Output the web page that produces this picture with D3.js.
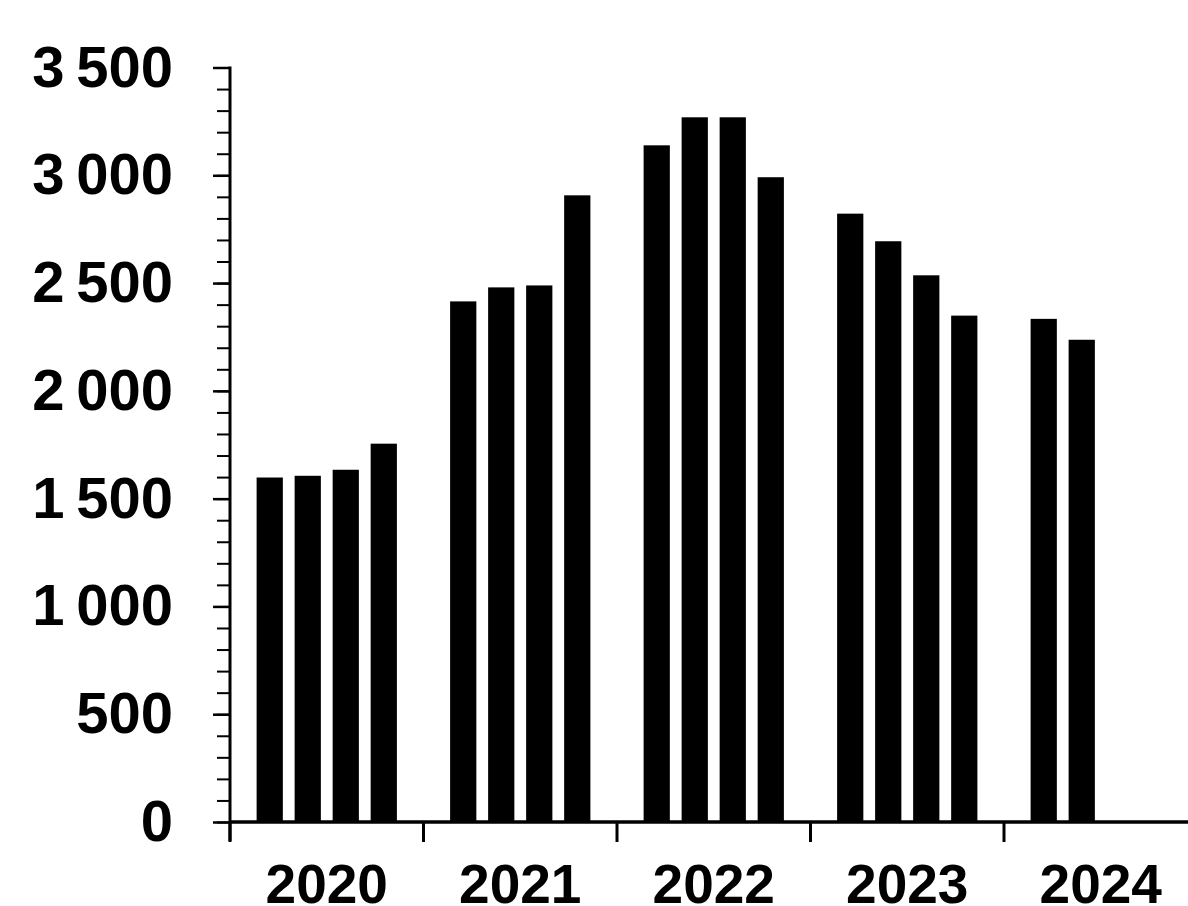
<!DOCTYPE html>
<html>
<head>
<meta charset="utf-8">
<script src="https://cdn.jsdelivr.net/npm/d3@7"></script>
<style>
  html, body { margin: 0; padding: 0; background: #fff; }
  svg { display: block; }
  text { font-family: "Century Gothic", "URW Gothic", "Liberation Sans", Arial, sans-serif; font-weight: bold; fill: #000; }
</style>
</head>
<body>
<svg id="chart" width="1188" height="906"></svg>
<script>
// ---- data ----
const years = ["2020", "2021", "2022", "2023", "2024"];
const quarters = ["Q1", "Q2", "Q3", "Q4"];
const values2020 = [1598, 1606, 1634, 1755];
const values2021 = [2415, 2480, 2489, 2907];
const values2022 = [3139, 3269, 3269, 2991];
const values2023 = [2822, 2694, 2536, 2349];
const values2024 = [2334, 2237];
const yTicks = [0, 500, 1000, 1500, 2000, 2500, 3000, 3500];
const yMinorStep = 100;

const seriesByYear = [values2020, values2021, values2022, values2023, values2024];
const rows = [];
years.forEach((y, i) => seriesByYear[i].forEach((v, j) => rows.push({ year: y, q: quarters[j], value: v })));

// ---- layout ----
const svg = d3.select("#chart");
const x0Left = 230, x0Right = 1197.5;
const yTop = 67.5, yBottom = 822;
const fontSize = 58;
const xFontSize = 55;

const x0 = d3.scaleBand().domain(years).range([x0Left, x0Right]).padding(0);
const x1 = d3.scaleBand().domain(quarters).range([0, x0.bandwidth()]).paddingInner(0.31).paddingOuter(0.7);
const y = d3.scaleLinear().domain([0, 3500]).range([yBottom, yTop]);

const loc = d3.formatLocale({ decimal: ",", thousands: "\u2009", grouping: [3], currency: ["", ""] });
const fmt = loc.format(",d");

svg.append("rect").attr("width", 1188).attr("height", 906).attr("fill", "#fff");

// bars
svg.append("g").selectAll("rect").data(rows).join("rect")
  .attr("x", d => x0(d.year) + x1(d.q))
  .attr("width", x1.bandwidth())
  .attr("y", d => y(d.value))
  .attr("height", d => y(0) - y(d.value))
  .attr("fill", "#000");

// y axis minor ticks
const minorTicks = d3.range(0, 3500 + 1, yMinorStep);
const yMinor = svg.append("g").attr("transform", `translate(${x0Left},0)`)
  .call(d3.axisLeft(y).tickValues(minorTicks).tickSize(13).tickFormat(""));
yMinor.select(".domain").remove();
yMinor.selectAll("line").attr("stroke", "#000").attr("stroke-width", 2);

// y axis major ticks + labels
const yAxis = svg.append("g").attr("transform", `translate(${x0Left},0)`)
  .call(d3.axisLeft(y).tickValues(yTicks).tickSize(17).tickPadding(40).tickFormat(fmt));
yAxis.select(".domain").remove();
yAxis.selectAll("line").attr("stroke", "#000").attr("stroke-width", 2.5);
yAxis.selectAll("text").attr("font-size", fontSize).attr("font-family", null);

// y axis line (extends below baseline)
svg.append("line")
  .attr("x1", x0Left).attr("x2", x0Left)
  .attr("y1", y(3500) - 1).attr("y2", y(0) + 19)
  .attr("stroke", "#000").attr("stroke-width", 3);

// x axis line
svg.append("line")
  .attr("x1", x0Left).attr("x2", 1188)
  .attr("y1", y(0)).attr("y2", y(0))
  .attr("stroke", "#000").attr("stroke-width", 3.5);

// x axis ticks at group boundaries
svg.append("g").selectAll("line").data(years).join("line")
  .attr("x1", d => x0(d)).attr("x2", d => x0(d))
  .attr("y1", y(0)).attr("y2", y(0) + 20)
  .attr("stroke", "#000").attr("stroke-width", 3);

// x axis labels
const xAxis = svg.append("g").attr("transform", `translate(0,${yBottom})`)
  .call(d3.axisBottom(x0).tickSize(0).tickPadding(42));
xAxis.select(".domain").remove();
xAxis.selectAll("text").attr("font-size", xFontSize).attr("font-family", null);
</script>
</body>
</html>
